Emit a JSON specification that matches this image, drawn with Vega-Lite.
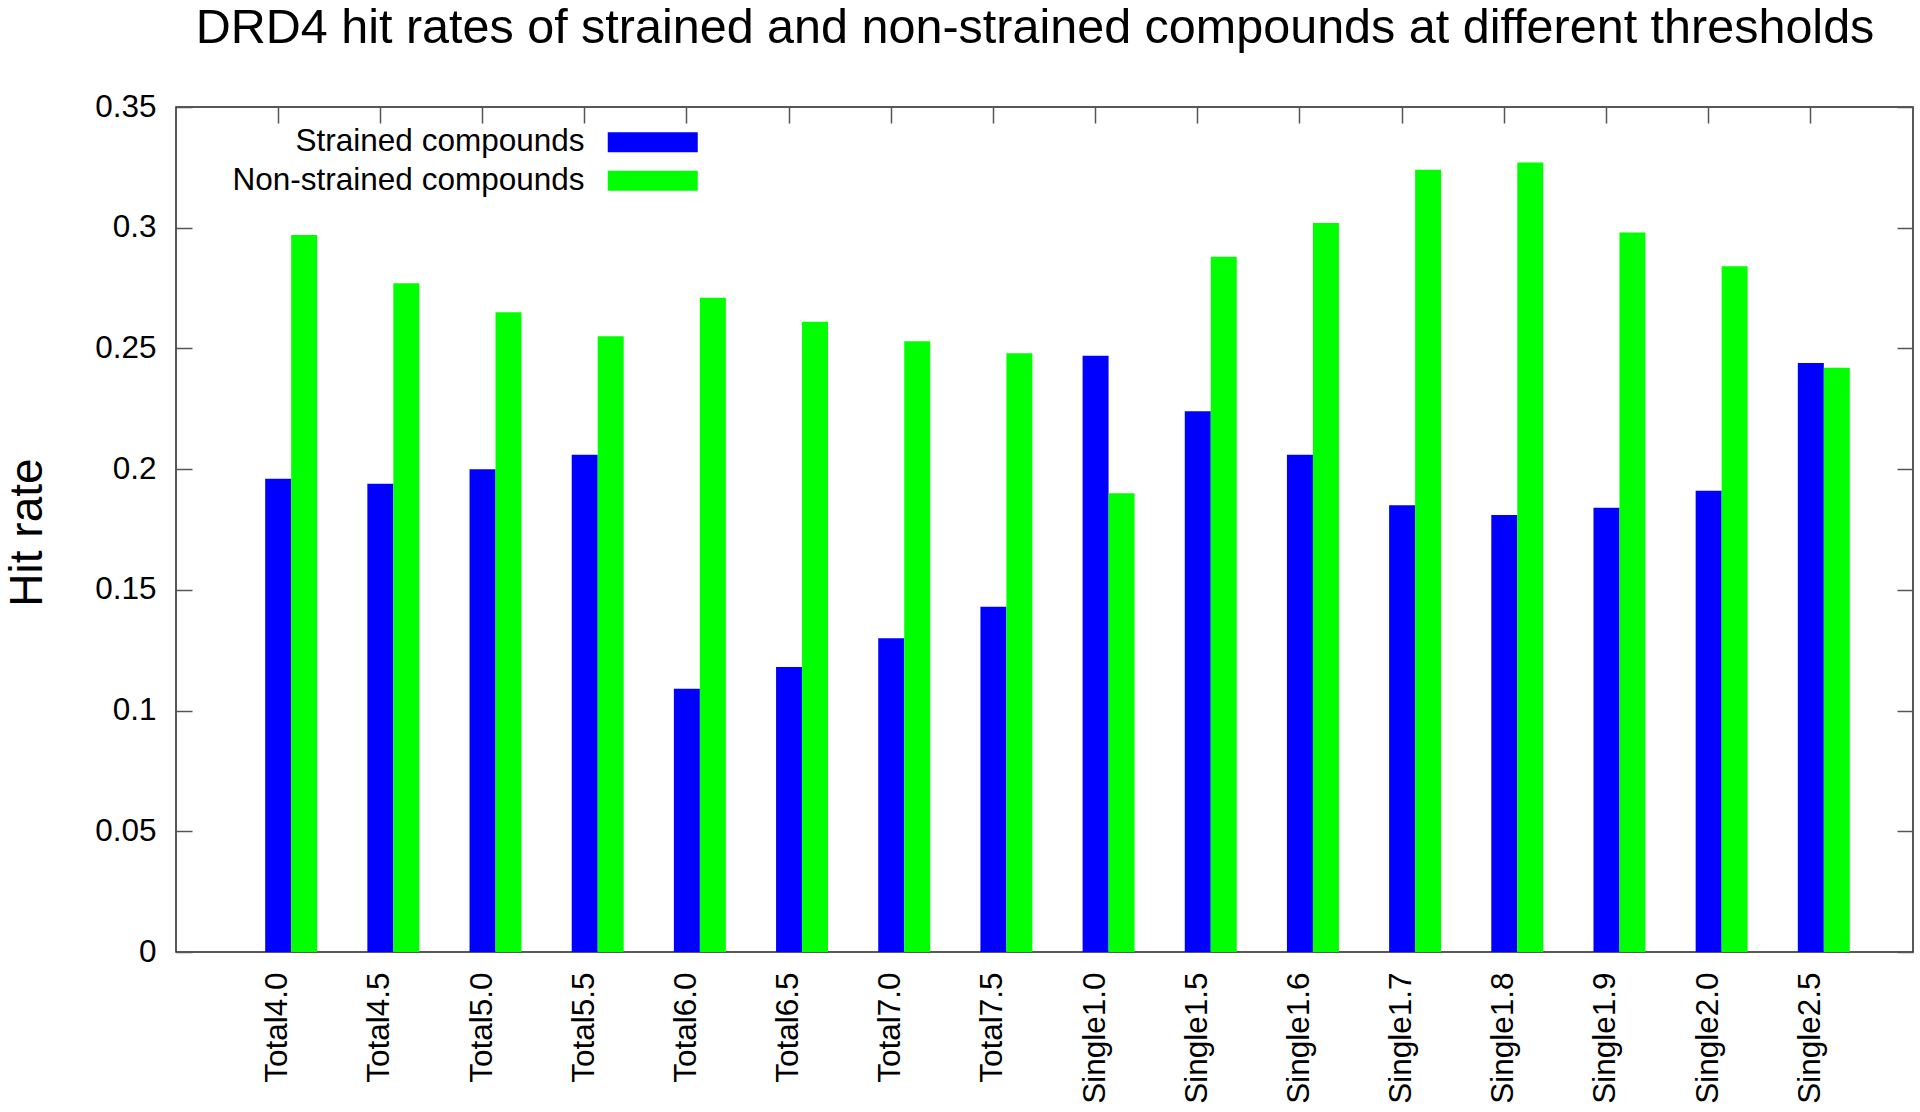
{
  "$schema": "https://vega.github.io/schema/vega-lite/v6.json",
  "width": 1737,
  "height": 845,
  "autosize": {"type": "none"},
  "padding": {"left": 176, "top": 107, "right": 7, "bottom": 160},
  "background": "white",
  "config": {
    "font": "Liberation Sans",
    "view": {"stroke": "#222", "strokeWidth": 1.5},
    "axis": {"labelFont": "Liberation Sans", "labelFontSize": 31.5, "labelColor": "#000", "domain": false, "grid": false, "tickColor": "#555", "tickWidth": 1.5, "tickSize": -16}
  },
  "title": {
    "text": "DRD4 hit rates of strained and non-strained compounds at different thresholds",
    "fontSize": 48.5,
    "fontWeight": "normal",
    "font": "Liberation Sans",
    "color": "#000",
    "anchor": "middle",
    "baseline": "alphabetic",
    "offset": 0,
    "dx": -9.5
  },
  "data": {
    "values": [
      {"threshold": "Total4.0", "series": "Strained compounds", "rate": 0.196},
      {"threshold": "Total4.0", "series": "Non-strained compounds", "rate": 0.297},
      {"threshold": "Total4.5", "series": "Strained compounds", "rate": 0.194},
      {"threshold": "Total4.5", "series": "Non-strained compounds", "rate": 0.277},
      {"threshold": "Total5.0", "series": "Strained compounds", "rate": 0.200},
      {"threshold": "Total5.0", "series": "Non-strained compounds", "rate": 0.265},
      {"threshold": "Total5.5", "series": "Strained compounds", "rate": 0.206},
      {"threshold": "Total5.5", "series": "Non-strained compounds", "rate": 0.255},
      {"threshold": "Total6.0", "series": "Strained compounds", "rate": 0.109},
      {"threshold": "Total6.0", "series": "Non-strained compounds", "rate": 0.271},
      {"threshold": "Total6.5", "series": "Strained compounds", "rate": 0.118},
      {"threshold": "Total6.5", "series": "Non-strained compounds", "rate": 0.261},
      {"threshold": "Total7.0", "series": "Strained compounds", "rate": 0.130},
      {"threshold": "Total7.0", "series": "Non-strained compounds", "rate": 0.253},
      {"threshold": "Total7.5", "series": "Strained compounds", "rate": 0.143},
      {"threshold": "Total7.5", "series": "Non-strained compounds", "rate": 0.248},
      {"threshold": "Single1.0", "series": "Strained compounds", "rate": 0.247},
      {"threshold": "Single1.0", "series": "Non-strained compounds", "rate": 0.190},
      {"threshold": "Single1.5", "series": "Strained compounds", "rate": 0.224},
      {"threshold": "Single1.5", "series": "Non-strained compounds", "rate": 0.288},
      {"threshold": "Single1.6", "series": "Strained compounds", "rate": 0.206},
      {"threshold": "Single1.6", "series": "Non-strained compounds", "rate": 0.302},
      {"threshold": "Single1.7", "series": "Strained compounds", "rate": 0.185},
      {"threshold": "Single1.7", "series": "Non-strained compounds", "rate": 0.324},
      {"threshold": "Single1.8", "series": "Strained compounds", "rate": 0.181},
      {"threshold": "Single1.8", "series": "Non-strained compounds", "rate": 0.327},
      {"threshold": "Single1.9", "series": "Strained compounds", "rate": 0.184},
      {"threshold": "Single1.9", "series": "Non-strained compounds", "rate": 0.298},
      {"threshold": "Single2.0", "series": "Strained compounds", "rate": 0.191},
      {"threshold": "Single2.0", "series": "Non-strained compounds", "rate": 0.284},
      {"threshold": "Single2.5", "series": "Strained compounds", "rate": 0.244},
      {"threshold": "Single2.5", "series": "Non-strained compounds", "rate": 0.242}
    ]
  },
  "layer": [
    {
      "mark": {"type": "bar", "stroke": null},
      "encoding": {
        "x": {
          "field": "threshold", "type": "nominal", "sort": null,
          "scale": {"paddingInner": 0.237, "paddingOuter": 0.6185},
          "axis": {"title": null, "labelAngle": -90, "labelPadding": 36, "labelLimit": 0}
        },
        "xOffset": {
          "field": "series", "type": "nominal",
          "scale": {"domain": ["pad", "Strained compounds", "Non-strained compounds"], "paddingInner": 0, "paddingOuter": 0}
        },
        "y": {
          "field": "rate", "type": "quantitative",
          "scale": {"domain": [0, 0.35], "nice": false, "zero": true},
          "axis": {"title": "Hit rate", "values": [0, 0.05, 0.1, 0.15, 0.2, 0.25, 0.3, 0.35], "format": "~g", "labelPadding": 36,
                   "titleFont": "Liberation Sans", "titleFontSize": 46, "titleFontWeight": "normal", "titleColor": "#000",
                   "titleAngle": -90, "titleX": -135, "titleY": 425, "titleBaseline": "alphabetic", "titleAlign": "center"}
        },
        "color": {
          "field": "series", "type": "nominal",
          "scale": {"domain": ["Strained compounds", "Non-strained compounds"], "range": ["#0000ff", "#00ff00"]},
          "legend": {
            "orient": "none", "legendX": 461, "legendY": 19.5, "title": null,
            "symbolType": "M-4.5,-1H4.5V1H-4.5Z", "symbolSize": 400, "symbolStrokeWidth": 0, "symbolOpacity": 1,
            "labelAlign": "right", "labelOffset": -84, "labelFontSize": 31.5, "labelFont": "Liberation Sans", "labelColor": "#000",
            "labelLimit": 0, "rowPadding": 5.5, "padding": 0
          }
        }
      }
    },
    {
      "mark": {"type": "bar", "opacity": 0},
      "encoding": {
        "x": {"field": "threshold", "type": "nominal", "sort": null,
              "axis": {"orient": "top", "title": null, "labels": false}},
        "xOffset": {"field": "series", "type": "nominal"},
        "y": {"field": "rate", "type": "quantitative",
              "axis": {"orient": "right", "title": null, "labels": false, "values": [0, 0.05, 0.1, 0.15, 0.2, 0.25, 0.3, 0.35]}}
      }
    }
  ],
  "resolve": {"axis": {"x": "independent", "y": "independent"}}
}
